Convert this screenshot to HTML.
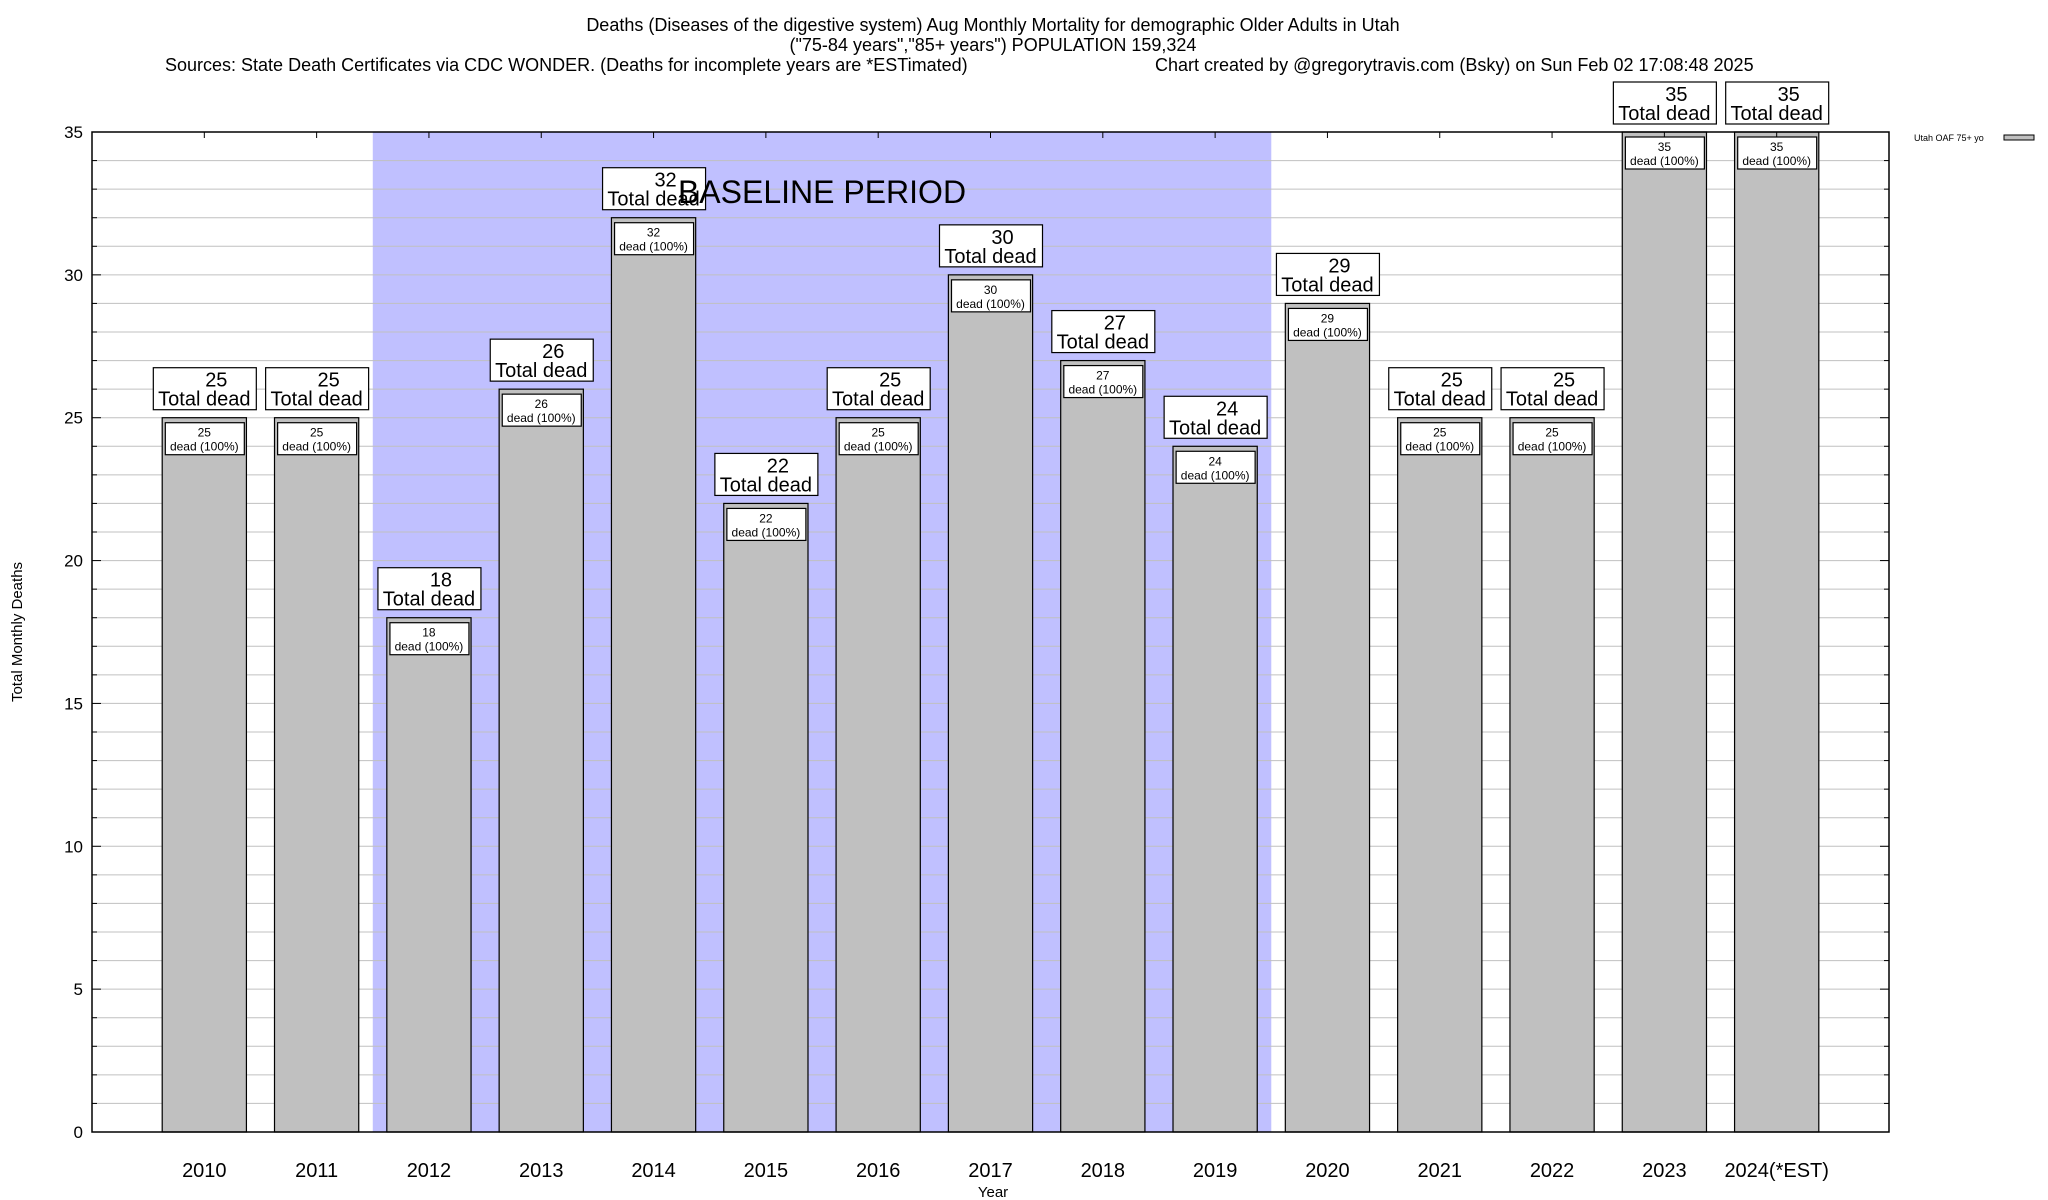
<!DOCTYPE html>
<html><head><meta charset="utf-8"><style>
html,body{margin:0;padding:0;background:#fff;}
svg{display:block;font-family:"Liberation Sans",Arial,sans-serif;}
</style></head><body>
<svg id="chart" width="2048" height="1200" viewBox="0 0 2048 1200" xmlns="http://www.w3.org/2000/svg">
<g font-size="18" text-anchor="middle" fill="#000">
<text x="993" y="31">Deaths (Diseases of the digestive system) Aug Monthly Mortality for demographic Older Adults in Utah</text>
<text x="993" y="51">("75-84 years","85+ years") POPULATION 159,324</text>
<text x="165" y="71" text-anchor="start">Sources: State Death Certificates via CDC WONDER. (Deaths for incomplete years are *ESTimated)</text>
<text x="1155" y="71" text-anchor="start">Chart created by @gregorytravis.com (Bsky) on Sun Feb 02 17:08:48 2025</text>
</g>
<g id="bg"></g>
<g id="grid"></g>
<g id="bars"></g>
<g id="axes"></g>
<g id="labels"></g>
<text x="822" y="203" font-size="32" text-anchor="middle">BASELINE PERIOD</text>
<text x="993" y="1197" font-size="15" text-anchor="middle">Year</text>
<text transform="translate(22,632) rotate(-90)" font-size="15" text-anchor="middle">Total Monthly Deaths</text>
<g>
<text x="1914" y="141" font-size="9">Utah OAF 75+ yo</text>
<rect x="2004" y="135" width="30" height="5" fill="#c0c0c0" stroke="#000" stroke-width="1"/>
</g>
</svg>
<script>
const categories = ["2010","2011","2012","2013","2014","2015","2016","2017","2018","2019","2020","2021","2022","2023","2024(*EST)"];
const deaths = [25,25,18,26,32,22,25,30,27,24,29,25,25,35,35];
const yTicks = [0,5,10,15,20,25,30,35];
const baselineStart = 2; // index of 2012
const baselineEnd = 9;   // index of 2019

const NS = "http://www.w3.org/2000/svg";
const L = 92, R = 1889, T = 132, B = 1132, yMax = 35;
const step = (R - L) / (categories.length + 1);
const xC = i => L + (i + 1) * step;
const yS = v => B - v / yMax * (B - T);
const barW = step * 0.75;
function mk(tag, attrs, parent) {
  const e = document.createElementNS(NS, tag);
  for (const k in attrs) e.setAttribute(k, attrs[k]);
  parent.appendChild(e);
  return e;
}
const bg = document.getElementById("bg"), grid = document.getElementById("grid"),
      bars = document.getElementById("bars"), axes = document.getElementById("axes"),
      labels = document.getElementById("labels");

const shade = mk("rect", {x: xC(baselineStart) - step/2, y: T, width: (baselineEnd - baselineStart + 1) * step, height: B - T, fill: "#c0c0ff"}, bg);



for (let v = 1; v < yMax; v++) {
  const gl = mk("line", {x1: L, x2: R, y1: yS(v), y2: yS(v), stroke: "#c0c0c0", "stroke-width": 1}, grid);
  
  
  const mt = mk("line", {x1: L, x2: L + (v % 5 === 0 ? 9 : 5), y1: yS(v), y2: yS(v), stroke: "#000", "stroke-width": 1}, axes);
  
  
  const mt2 = mk("line", {x1: R, x2: R - (v % 5 === 0 ? 9 : 5), y1: yS(v), y2: yS(v), stroke: "#000", "stroke-width": 1}, axes);
  
  
}

deaths.forEach((d, i) => {
  const cx = xC(i), top = yS(d);
  const b = mk("rect", {x: cx - barW/2, y: top, width: barW, height: B - top, fill: "#c0c0c0", stroke: "#000", "stroke-width": 1.2}, bars);
  
  
  // inner label
  const ib = mk("rect", {x: cx - 39, y: top + 5, width: 79, height: 32, fill: "#fff", stroke: "#000", "stroke-width": 1.2}, labels);
  
  
  const t1 = mk("text", {x: cx, y: top + 19, "font-size": 12, "text-anchor": "middle"}, labels);
  t1.textContent = d;
  
  
  const t2 = mk("text", {x: cx, y: top + 33, "font-size": 12, "text-anchor": "middle"}, labels);
  t2.textContent = "dead (100%)";
  
  
  // outer label
  const ob = mk("rect", {x: cx - 51, y: top - 50, width: 103, height: 42, fill: "#fff", stroke: "#000", "stroke-width": 1.2}, labels);
  
  
  const o1 = mk("text", {x: cx + 12, y: top - 31, "font-size": 20, "text-anchor": "middle"}, labels);
  o1.textContent = d;
  
  
  const o2 = mk("text", {x: cx, y: top - 12, "font-size": 20, "text-anchor": "middle"}, labels);
  o2.textContent = "Total dead";
  
  
  // x label
  const xl = mk("text", {x: cx, y: 1177, "font-size": 20, "text-anchor": "middle"}, axes);
  xl.textContent = categories[i];
  
  
  const xt = mk("line", {x1: cx, x2: cx, y1: T, y2: T + 6, stroke: "#000", "stroke-width": 1}, axes);
  
  
});

yTicks.forEach(v => {
  const t = mk("text", {x: 83, y: yS(v) + 6, "font-size": 17, "text-anchor": "end"}, axes);
  t.textContent = v;
  
  
});

const frame = mk("rect", {x: L, y: T, width: R - L, height: B - T, fill: "none", stroke: "#000", "stroke-width": 1.5}, axes);


</script>
</body></html>
